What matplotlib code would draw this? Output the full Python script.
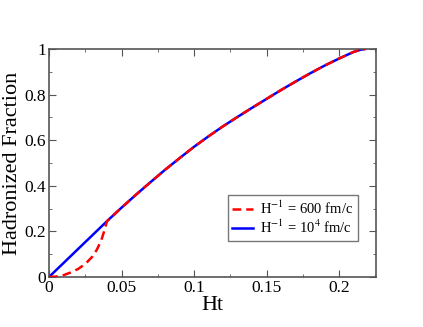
import matplotlib
matplotlib.use("Agg")
import matplotlib.pyplot as plt
from matplotlib.ticker import MultipleLocator

# Hadronized fraction vs Ht
ht_blue = [0, 0.040, 0.05, 0.06, 0.07, 0.08, 0.09, 0.10, 0.11, 0.12, 0.13, 0.14,
           0.15, 0.16, 0.17, 0.18, 0.19, 0.20, 0.21, 0.215, 0.218]
frac_blue = [0, 0.245, 0.304, 0.361, 0.416, 0.470, 0.521, 0.571, 0.617, 0.661, 0.702, 0.742,
             0.781, 0.820, 0.857, 0.893, 0.927, 0.958, 0.987, 0.997, 1.0]

ht_red = [0, 0.005, 0.01, 0.015, 0.02, 0.025, 0.03, 0.033, 0.036, 0.038, 0.040,
          0.05, 0.06, 0.07, 0.08, 0.09, 0.10, 0.11, 0.12, 0.13, 0.14,
          0.15, 0.16, 0.17, 0.18, 0.19, 0.20, 0.21, 0.215, 0.218]
frac_red = [0, 0.002, 0.008, 0.02, 0.035, 0.057, 0.09, 0.12, 0.16, 0.2, 0.245,
            0.304, 0.361, 0.416, 0.470, 0.521, 0.571, 0.617, 0.661, 0.702, 0.742,
            0.781, 0.820, 0.857, 0.893, 0.927, 0.958, 0.987, 0.997, 1.0]

plt.rcParams['font.family'] = ['Liberation Serif', 'DejaVu Serif']
plt.rcParams['mathtext.fontset'] = 'stix'

fig = plt.figure(figsize=(4.23, 3.27), dpi=100)
ax = fig.add_axes([49/423, 50/327, 327/423, 228/327])

ax.plot(ht_red, frac_red, color='red', ls=(0, (3.5, 2)), lw=1.8, label='H$^{-1}$ = 600 fm/c', zorder=3)
ax.plot(ht_blue, frac_blue, color='blue', lw=1.8, label='H$^{-1}$ = 10$^{4}$ fm/c', zorder=2)

ax.set_xlim(0, 0.2255)
ax.set_ylim(0, 1)
ax.xaxis.set_minor_locator(MultipleLocator(0.025))
ax.yaxis.set_minor_locator(MultipleLocator(0.1))
ax.set_xticks([0, 0.05, 0.1, 0.15, 0.2])
ax.set_xticklabels(['0', '0.05', '0.1', '0.15', '0.2'])
ax.set_yticks([0, 0.2, 0.4, 0.6, 0.8, 1])
ax.set_yticklabels(['0', '0.2', '0.4', '0.6', '0.8', '1'])
ax.tick_params(which='both', direction='in', top=True, right=True, color='#555555', labelsize=12.5, pad=2)
ax.tick_params(which='major', length=5)
ax.tick_params(which='minor', length=2.5)
for s in ax.spines.values():
    s.set_color('#555555')
    s.set_linewidth(1.2)

ax.set_xlabel('Ht', fontsize=16, labelpad=0)
ax.set_ylabel('Hadronized Fraction', fontsize=16, labelpad=2)

leg = ax.legend(loc='upper left', bbox_to_anchor=(179/327, 1 - 146/228), fontsize=10.5, frameon=True, fancybox=False,
                edgecolor='#555555', handlelength=1.4, borderpad=0.3, labelspacing=0.15, handletextpad=0.5,
                borderaxespad=0)
leg.get_frame().set_linewidth(1.0)

fig.savefig('out.png', dpi=100)
